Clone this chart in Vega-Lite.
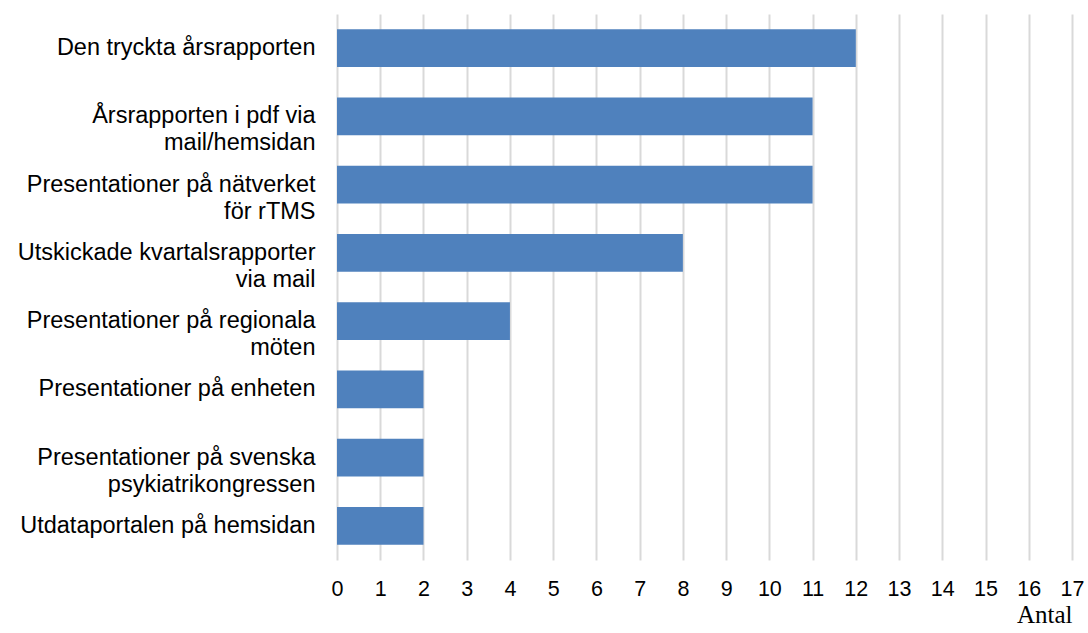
{
  "$schema": "https://vega.github.io/schema/vega-lite/v6.json",
  "autosize": {"type": "none"},
  "padding": {"left": 337, "top": 14, "right": 16, "bottom": 73},
  "width": 735,
  "height": 546,
  "background": "white",
  "data": {"values": [
    {"kanal": "Den tryckta årsrapporten", "antal": 12},
    {"kanal": "Årsrapporten i pdf via\nmail/hemsidan", "antal": 11},
    {"kanal": "Presentationer på nätverket\nför rTMS", "antal": 11},
    {"kanal": "Utskickade kvartalsrapporter\nvia mail", "antal": 8},
    {"kanal": "Presentationer på regionala\nmöten", "antal": 4},
    {"kanal": "Presentationer på enheten", "antal": 2},
    {"kanal": "Presentationer på svenska\npsykiatrikongressen", "antal": 2},
    {"kanal": "Utdataportalen på hemsidan", "antal": 2}
  ]},
  "mark": {"type": "bar", "color": "#4F81BD"},
  "encoding": {
    "y": {
      "field": "kanal", "type": "nominal", "sort": null,
      "scale": {"paddingInner": 0.45, "paddingOuter": 0.225},
      "axis": {
        "title": null, "domain": false, "ticks": false, "grid": false,
        "labelExpr": "split(datum.label, '\\n')",
        "labelFont": "Liberation Sans", "labelFontSize": 23.5, "labelColor": "#000000",
        "labelPadding": 22, "labelLineHeight": 27, "labelLimit": 400
      }
    },
    "x": {
      "field": "antal", "type": "quantitative",
      "scale": {"domain": [0, 17], "nice": false},
      "axis": {
        "values": [0,1,2,3,4,5,6,7,8,9,10,11,12,13,14,15,16,17],
        "title": "Antal", "titleFont": "Liberation Serif", "titleFontSize": 25, "titleFontWeight": "normal",
        "titleColor": "#000000", "titleAnchor": "end", "titlePadding": 3,
        "domain": false, "ticks": false,
        "grid": true, "gridColor": "#d9d9d9", "gridWidth": 2,
        "labelFont": "Liberation Sans", "labelFontSize": 21.5, "labelColor": "#000000",
        "labelPadding": 18, "labelFlush": false
      }
    }
  },
  "config": {"view": {"stroke": null}}
}
